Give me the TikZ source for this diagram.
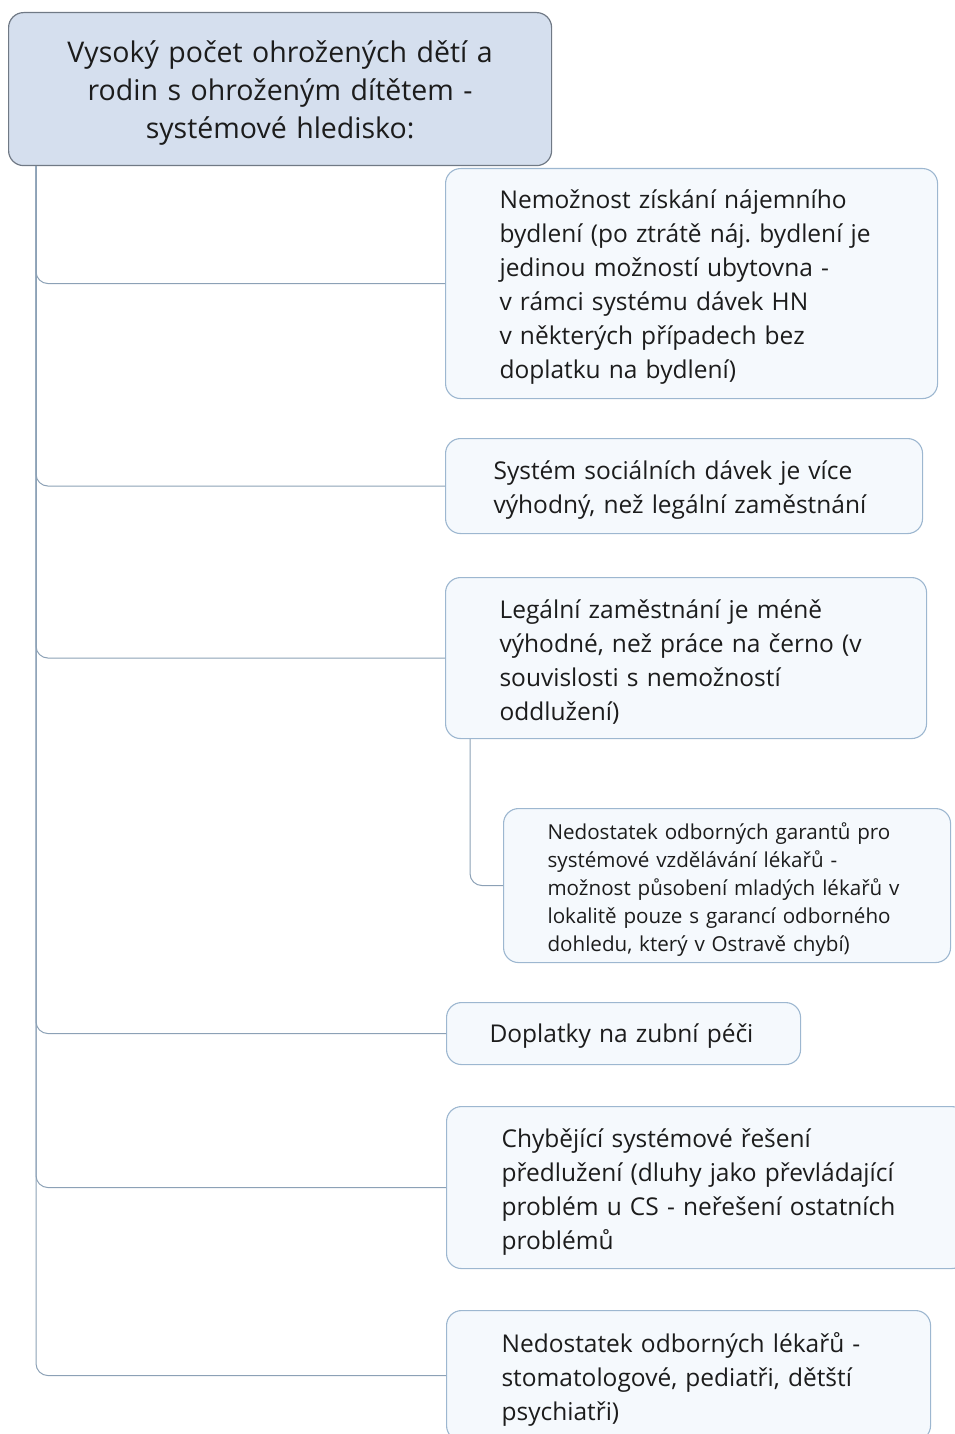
\documentclass[tikz,border=0pt]{standalone}
\usepackage{fontspec}
\setmainfont{Open Sans}
\frenchspacing
\definecolor{rootfill}{HTML}{D5DFEE}
\definecolor{rootline}{HTML}{707985}
\definecolor{leaffill}{HTML}{F5F9FD}
\definecolor{leafline}{HTML}{9DB7D0}
\definecolor{linkline}{HTML}{8CA1B6}
\definecolor{ink}{HTML}{1C1C1C}
\begin{document}
\begin{tikzpicture}[x=1pt,y=-1pt,
  rootbox/.style={draw=rootline, fill=rootfill, line width=1.2pt, rounded corners=15pt,
    anchor=north west, inner sep=0pt, align=center, text=ink,
    font=\fontsize{28.5}{38}\selectfont},
  leaf/.style={draw=leafline, fill=leaffill, line width=1.1pt, rounded corners=15pt,
    anchor=north west, inner sep=0pt, align=left, text=ink,
    font=\fontsize{24.5}{34}\selectfont},
  smallleaf/.style={leaf, font=\fontsize{20.6}{28}\selectfont},
  link/.style={draw=linkline, line width=1pt, rounded corners=12pt}]
\useasboundingbox (0,0) rectangle (955,1434);
\node[rootbox, minimum width=543pt, minimum height=153pt, text width=535pt] (root) at (8,12)
  {Vysoký počet ohrožených dětí a\\ rodin s ohroženým dítětem -\\ systémové hledisko:\par\vspace*{-8pt}};
\node[leaf, minimum height=230pt, text width=492pt] (n1) at (445,168)
  {\leftskip=54pt\relax Nemožnost získání nájemního\\ bydlení (po ztrátě náj. bydlení je\\ jedinou možností ubytovna -\\ v rámci systému dávek HN\\ v některých případech bez\\ doplatku na bydlení)\par\vspace*{-8pt}};
\node[leaf, minimum height=95pt, text width=477pt] (n2) at (445,438)
  {\leftskip=48pt\relax Systém sociálních dávek je více\\ výhodný, než legální zaměstnání\par\vspace*{-8pt}};
\node[leaf, minimum height=161pt, text width=481pt] (n3) at (445,577)
  {\leftskip=54pt\relax Legální zaměstnání je méně\\ výhodné, než práce na černo (v\\ souvislosti s nemožností\\ oddlužení)\par\vspace*{-8pt}};
\node[smallleaf, minimum height=154pt, text width=447pt] (n4) at (503,808)
  {\leftskip=44pt\relax Nedostatek odborných garantů pro\\ systémové vzdělávání lékařů -\\ možnost působení mladých lékařů v\\ lokalitě pouze s garancí odborného\\ dohledu, který v Ostravě chybí)\par\vspace*{-8pt}};
\node[leaf, minimum height=62pt, text width=354pt] (n5) at (446,1002)
  {\leftskip=43pt\relax Doplatky na zubní péči\par\vspace*{-8pt}};
\node[leaf, minimum height=162pt, text width=520pt] (n6) at (446,1106)
  {\leftskip=55pt\relax Chybějící systémové řešení\\ předlužení (dluhy jako převládající\\ problém u CS - neřešení ostatních\\ problémů\par\vspace*{-8pt}};
\node[leaf, minimum height=130pt, text width=484pt] (n7) at (446,1310)
  {\leftskip=55pt\relax Nedostatek odborných lékařů -\\ stomatologové, pediatři, dětští\\ psychiatři)\par\vspace*{-8pt}};
% connectors
\draw[link] ([xshift=28pt]root.south west) |- (n1.west);
\draw[link] ([xshift=28pt]root.south west) |- (n2.west);
\draw[link] ([xshift=28pt]root.south west) |- (n3.west);
\draw[link] ([xshift=28pt]root.south west) |- (n5.west);
\draw[link] ([xshift=28pt]root.south west) |- (n6.west);
\draw[link] ([xshift=28pt]root.south west) |- (n7.west);
\draw[link] ([xshift=25pt]n3.south west) |- (n4.west);
\end{tikzpicture}
\end{document}
